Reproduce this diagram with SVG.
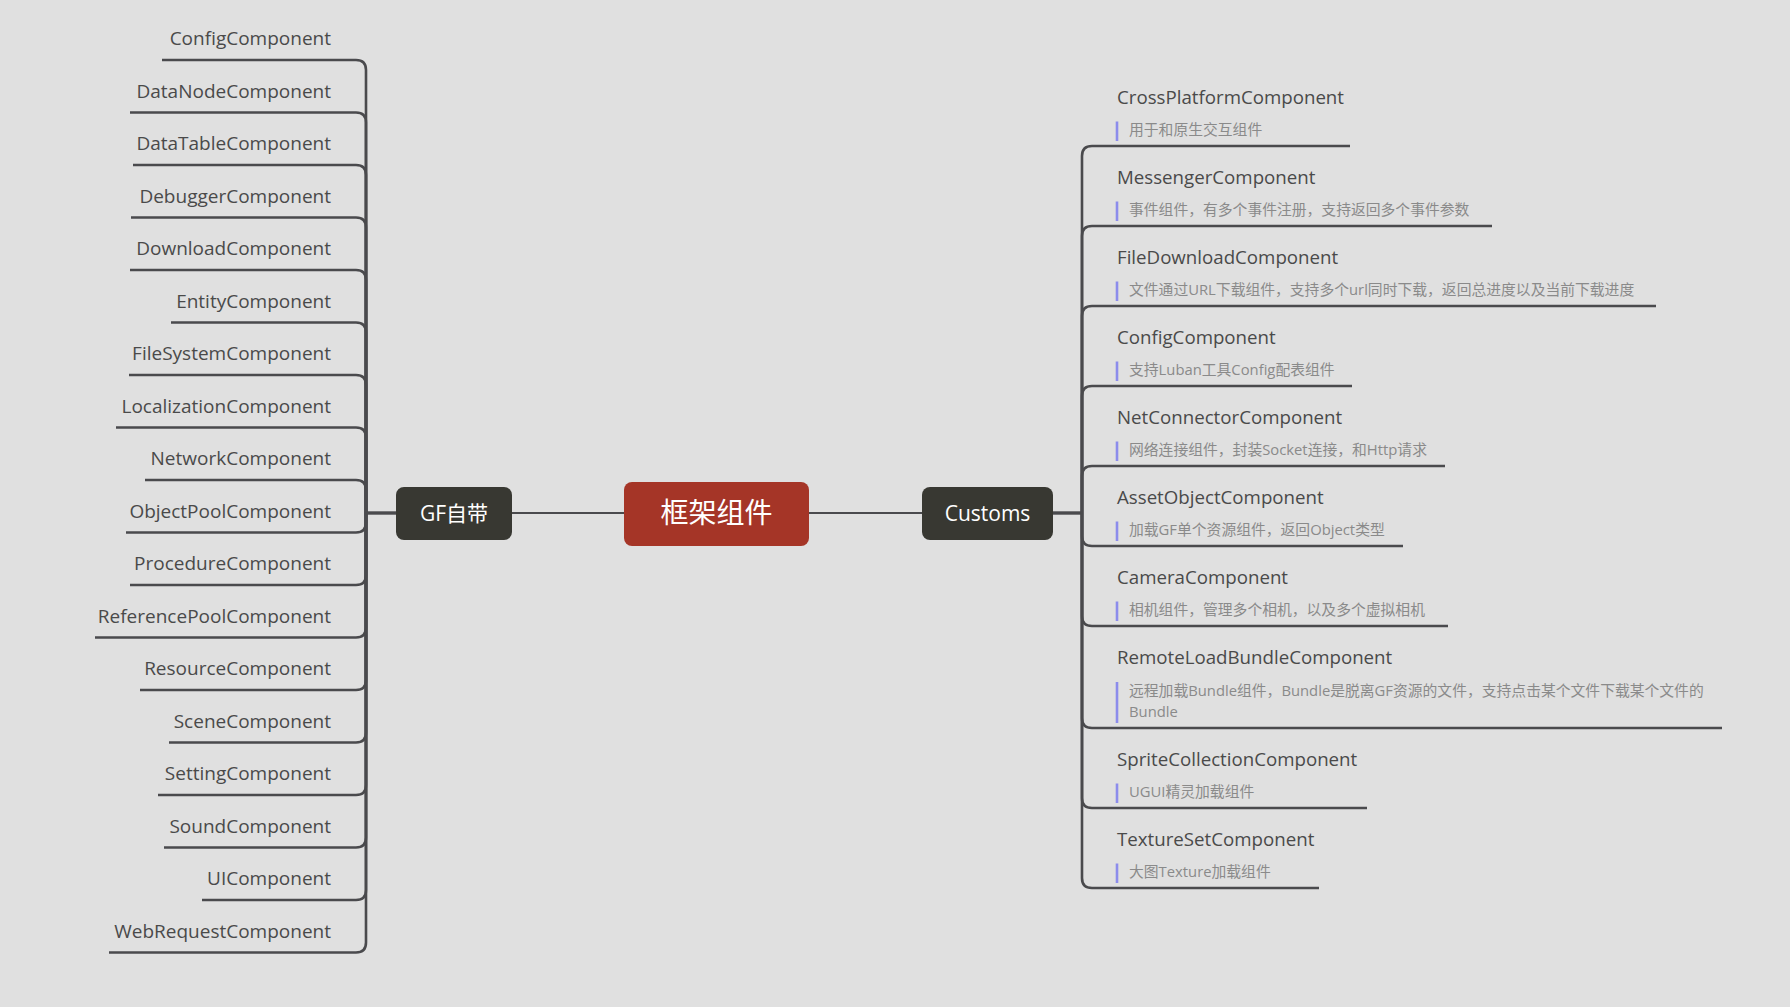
<svg xmlns="http://www.w3.org/2000/svg" width="1790" height="1007" viewBox="0 0 1790 1007">
<style>
.bg{fill:#e0e0e0}
.ln{fill:none;stroke:#4a4a4d;stroke-width:2.6;stroke-linecap:butt}
.main{fill:none;stroke:#4a4a4d;stroke-width:1.8}
.thick{fill:none;stroke:#4a4a4d;stroke-width:3.4}
.lt{font-family:"Open Sans","Noto Sans CJK SC",sans-serif;font-size:19px;fill:#4a4a4a;text-anchor:end}
.rt{font-family:"Open Sans","Noto Sans CJK SC",sans-serif;font-size:18.7px;fill:#4a4a4a}
.ds{font-family:"Open Sans","Noto Sans CJK SC",sans-serif;font-size:14.8px;fill:#8a8a8a}
.bar{stroke:#8c8cec;stroke-width:2.6}
.dark{fill:#383832}
.red{fill:#a53527}
.nt{font-family:"Open Sans","Noto Sans CJK SC",sans-serif;font-size:21px;fill:#ffffff;text-anchor:middle}
.ct{font-family:"Open Sans","Noto Sans CJK SC",sans-serif;font-size:28px;fill:#ffffff;text-anchor:middle}
</style>
<rect class="bg" x="0" y="0" width="1790" height="1007"/>
<g id="connectors">
<path class="main" d="M511,513 H624"/>
<path class="main" d="M809,513 H922"/>
<path class="thick" d="M366,513 H396"/>
<path class="thick" d="M1053,513 H1082"/>
<path class="ln" d="M366,513 V70 Q366,60 356,60 H162"/>
<path class="ln" d="M366,513 V122.5 Q366,112.5 356,112.5 H130"/>
<path class="ln" d="M366,513 V175 Q366,165 356,165 H133"/>
<path class="ln" d="M366,513 V227.5 Q366,217.5 356,217.5 H131"/>
<path class="ln" d="M366,513 V280 Q366,270 356,270 H130"/>
<path class="ln" d="M366,513 V332.5 Q366,322.5 356,322.5 H171"/>
<path class="ln" d="M366,513 V385 Q366,375 356,375 H129"/>
<path class="ln" d="M366,513 V437.5 Q366,427.5 356,427.5 H116"/>
<path class="ln" d="M366,513 V490 Q366,480 356,480 H145"/>
<path class="ln" d="M366,513 V522.5 Q366,532.5 356,532.5 H126"/>
<path class="ln" d="M366,513 V575 Q366,585 356,585 H130"/>
<path class="ln" d="M366,513 V627.5 Q366,637.5 356,637.5 H95"/>
<path class="ln" d="M366,513 V680 Q366,690 356,690 H140"/>
<path class="ln" d="M366,513 V732.5 Q366,742.5 356,742.5 H169"/>
<path class="ln" d="M366,513 V785 Q366,795 356,795 H158"/>
<path class="ln" d="M366,513 V837.5 Q366,847.5 356,847.5 H164"/>
<path class="ln" d="M366,513 V890 Q366,900 356,900 H202"/>
<path class="ln" d="M366,513 V942.5 Q366,952.5 356,952.5 H109"/>
<path class="ln" d="M1082,513 V156 Q1082,146 1092,146 H1350"/>
<path class="ln" d="M1082,513 V236 Q1082,226 1092,226 H1492"/>
<path class="ln" d="M1082,513 V316 Q1082,306 1092,306 H1656"/>
<path class="ln" d="M1082,513 V396 Q1082,386 1092,386 H1352"/>
<path class="ln" d="M1082,513 V476 Q1082,466 1092,466 H1445"/>
<path class="ln" d="M1082,513 V536 Q1082,546 1092,546 H1403"/>
<path class="ln" d="M1082,513 V616 Q1082,626 1092,626 H1448"/>
<path class="ln" d="M1082,513 V718 Q1082,728 1092,728 H1722"/>
<path class="ln" d="M1082,513 V798 Q1082,808 1092,808 H1367"/>
<path class="ln" d="M1082,513 V878 Q1082,888 1092,888 H1319"/>
</g>
<g id="root"><rect class="red" x="624" y="482" width="185" height="64" rx="8"/><text class="ct" x="716.5" y="523">框架组件</text></g>
<g id="gf"><rect class="dark" x="396" y="487" width="116" height="53" rx="8"/><text class="nt" x="454" y="520.5">GF自带</text></g>
<g id="customs"><rect class="dark" x="922" y="487" width="131" height="53" rx="8"/><text class="nt" x="987.5" y="520.5">Customs</text></g>
<g id="l0"><text class="lt" x="331" y="45">ConfigComponent</text></g>
<g id="l1"><text class="lt" x="331" y="97.5">DataNodeComponent</text></g>
<g id="l2"><text class="lt" x="331" y="150">DataTableComponent</text></g>
<g id="l3"><text class="lt" x="331" y="202.5">DebuggerComponent</text></g>
<g id="l4"><text class="lt" x="331" y="255">DownloadComponent</text></g>
<g id="l5"><text class="lt" x="331" y="307.5">EntityComponent</text></g>
<g id="l6"><text class="lt" x="331" y="360">FileSystemComponent</text></g>
<g id="l7"><text class="lt" x="331" y="412.5">LocalizationComponent</text></g>
<g id="l8"><text class="lt" x="331" y="465">NetworkComponent</text></g>
<g id="l9"><text class="lt" x="331" y="517.5">ObjectPoolComponent</text></g>
<g id="l10"><text class="lt" x="331" y="570">ProcedureComponent</text></g>
<g id="l11"><text class="lt" x="331" y="622.5">ReferencePoolComponent</text></g>
<g id="l12"><text class="lt" x="331" y="675">ResourceComponent</text></g>
<g id="l13"><text class="lt" x="331" y="727.5">SceneComponent</text></g>
<g id="l14"><text class="lt" x="331" y="780">SettingComponent</text></g>
<g id="l15"><text class="lt" x="331" y="832.5">SoundComponent</text></g>
<g id="l16"><text class="lt" x="331" y="885">UIComponent</text></g>
<g id="l17"><text class="lt" x="331" y="937.5">WebRequestComponent</text></g>
<g id="r0"><text class="rt" x="1117" y="104">CrossPlatformComponent</text><line class="bar" x1="1117" y1="121.5" x2="1117" y2="141"/><text class="ds" x="1129" y="135">用于和原生交互组件</text></g>
<g id="r1"><text class="rt" x="1117" y="184">MessengerComponent</text><line class="bar" x1="1117" y1="201.5" x2="1117" y2="221"/><text class="ds" x="1129" y="215">事件组件，有多个事件注册，支持返回多个事件参数</text></g>
<g id="r2"><text class="rt" x="1117" y="264">FileDownloadComponent</text><line class="bar" x1="1117" y1="281.5" x2="1117" y2="301"/><text class="ds" x="1129" y="295">文件通过URL下载组件，支持多个url同时下载，返回总进度以及当前下载进度</text></g>
<g id="r3"><text class="rt" x="1117" y="344">ConfigComponent</text><line class="bar" x1="1117" y1="361.5" x2="1117" y2="381"/><text class="ds" x="1129" y="375">支持Luban工具Config配表组件</text></g>
<g id="r4"><text class="rt" x="1117" y="424">NetConnectorComponent</text><line class="bar" x1="1117" y1="441.5" x2="1117" y2="461"/><text class="ds" x="1129" y="455">网络连接组件，封装Socket连接，和Http请求</text></g>
<g id="r5"><text class="rt" x="1117" y="504">AssetObjectComponent</text><line class="bar" x1="1117" y1="521.5" x2="1117" y2="541"/><text class="ds" x="1129" y="535">加载GF单个资源组件，返回Object类型</text></g>
<g id="r6"><text class="rt" x="1117" y="584">CameraComponent</text><line class="bar" x1="1117" y1="601.5" x2="1117" y2="621"/><text class="ds" x="1129" y="615">相机组件，管理多个相机，以及多个虚拟相机</text></g>
<g id="r7"><text class="rt" x="1117" y="664">RemoteLoadBundleComponent</text><line class="bar" x1="1117" y1="682" x2="1117" y2="723"/><text class="ds" x="1129" y="696">远程加载Bundle组件，Bundle是脱离GF资源的文件，支持点击某个文件下载某个文件的</text><text class="ds" x="1129" y="717">Bundle</text></g>
<g id="r8"><text class="rt" x="1117" y="766">SpriteCollectionComponent</text><line class="bar" x1="1117" y1="783.5" x2="1117" y2="803"/><text class="ds" x="1129" y="797">UGUI精灵加载组件</text></g>
<g id="r9"><text class="rt" x="1117" y="846">TextureSetComponent</text><line class="bar" x1="1117" y1="863.5" x2="1117" y2="883"/><text class="ds" x="1129" y="877">大图Texture加载组件</text></g>
</svg>
